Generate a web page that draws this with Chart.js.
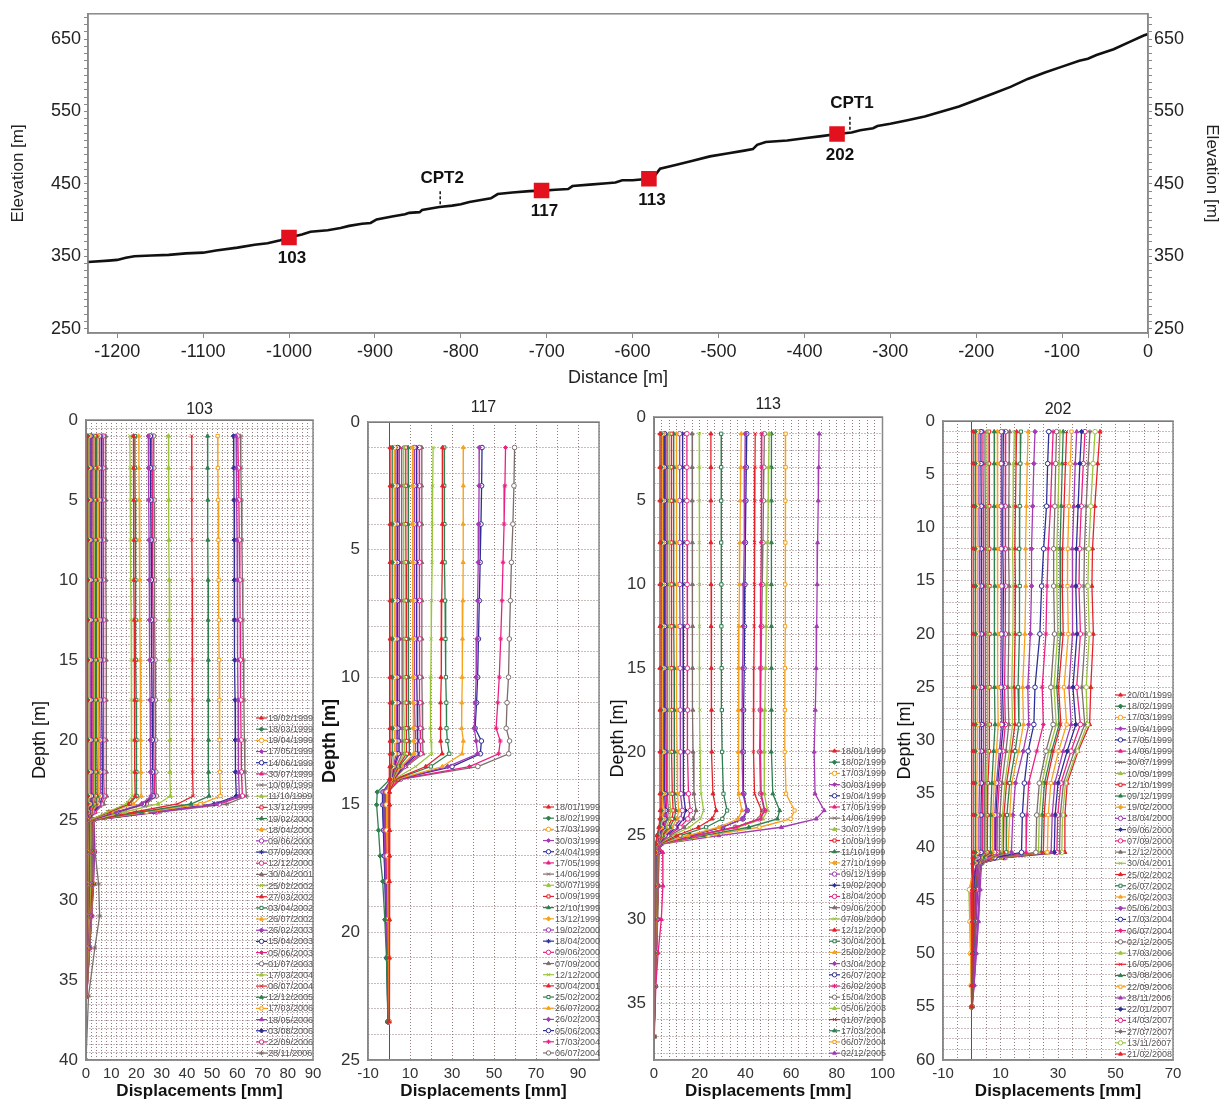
<!DOCTYPE html>
<html>
<head>
<meta charset="utf-8">
<script src="https://cdn.jsdelivr.net/npm/chart.js"></script>
<style>
  html, body { margin: 0; padding: 0; background: #fff; }
  body { width: 1225px; height: 1106px; position: relative; overflow: hidden; }
  canvas { position: absolute; }
</style>
</head>
<body>
<canvas id="profile" width="1225" height="395" style="left:0px;top:0px"></canvas>
<canvas id="inc103" width="340" height="711" style="left:0px;top:395px"></canvas>
<canvas id="inc117" width="300" height="711" style="left:315px;top:395px"></canvas>
<canvas id="inc113" width="300" height="711" style="left:600px;top:395px"></canvas>
<canvas id="inc202" width="335" height="711" style="left:890px;top:395px"></canvas>
<script>
const FONT = '"Liberation Sans", Arial, Helvetica, sans-serif';
Chart.defaults.font.family = FONT;
Chart.defaults.color = '#222';

// ---- slope profile ----
const profileDist = [-1234,-1210,-1200,-1190,-1180,-1160,-1140,-1120,-1100,-1085,-1060,-1040,-1025,-1010,-1000,-985,-975,-955,-940,-930,-915,-905,-898,-880,-865,-860,-848,-845,-825,-810,-800,-790,-775,-765,-757,-740,-720,-700,-690,-675,-670,-650,-630,-620,-612,-600,-581,-575,-568,-550,-530,-510,-490,-470,-460,-455,-445,-420,-400,-380,-362,-345,-335,-320,-315,-300,-280,-260,-240,-220,-200,-180,-160,-140,-120,-100,-80,-70,-60,-40,-20,-5,0];
const profileElev = [342,344,345,348,350,351,352,354,355,358,362,366,368,372,376,380,384,386,389,392,395,396,401,405,408,410,411,414,418,420,422,425,428,430,436,438,440,441,442,443,447,449,451,452,455,455,457,460,471,476,482,488,492,496,498,504,508,510,513,516,519,521,524,527,530,533,538,543,550,557,566,575,584,595,604,612,620,623,628,636,647,655,657];
const wellNames = ['103','117','113','202'];
const wellDist = [-1000,-706,-581,-362];
const wellElev = [376,441,457,519];
const cptNames = ['CPT2','CPT1'];
const cptDist = [-824,-347];
const cptElev = [419,522];

// ---- inclinometer 103 ----
const depth103 = [1,3,5,7.5,10,12.5,15,17.5,20,22,23.5,24,24.5,25,27,29,31,33,36,40];
const dates103 = ['19/02/1999','18/03/1999','19/04/1999','17/05/1999','14/06/1999','30/07/1999','10/09/1999','11/10/1999','13/12/1999','19/02/2000','18/04/2000','09/06/2000','07/09/2000','12/12/2000','30/04/2001','25/02/2002','27/03/2002','03/04/2002','26/07/2002','26/02/2003','15/04/2003','05/06/2003','01/07/2003','17/03/2004','06/07/2004','12/12/2005','17/03/2006','18/05/2006','03/08/2006','22/09/2006','28/11/2006'];
const disp103 = [
  [0.3,0.3,0.3,0.3,0.3,0.3,0.3,0.3,0.3,0.3,0.3,0.3,0.2,0.1,0.1,0,0,0,0,null],
  [0.7,0.7,0.7,0.7,0.7,0.7,0.7,0.7,0.7,0.7,0.7,0.6,0.4,0.2,0.2,0.1,0.1,0,0,null],
  [1.1,1.1,1.1,1.1,1.2,1.2,1.2,1.2,1.2,1.2,1.2,1.0,0.6,0.3,0.3,0.2,0.1,0.1,0,null],
  [1.5,1.5,1.5,1.5,1.5,1.5,1.6,1.6,1.6,1.6,1.6,1.4,0.8,0.4,0.4,0.3,0.2,0.1,0,null],
  [1.9,1.9,1.9,1.9,2.0,2.0,2.0,2.0,2.0,2.0,2.1,1.8,1.0,0.5,0.5,0.4,0.3,0.2,0,null],
  [2.3,2.3,2.3,2.3,2.4,2.4,2.4,2.4,2.4,2.4,2.5,2.2,1.2,0.5,0.6,0.5,0.4,0.2,0,null],
  [2.7,2.7,2.7,2.8,2.8,2.8,2.8,2.8,2.9,2.9,2.9,2.5,1.4,0.6,0.7,0.6,0.4,0.2,0,null],
  [3.1,3.1,3.1,3.2,3.2,3.2,3.3,3.3,3.3,3.3,3.4,2.9,1.6,0.6,0.8,0.7,0.5,0.3,0,null],
  [3.6,3.6,3.6,3.7,3.7,3.7,3.8,3.8,3.8,3.8,3.9,3.3,1.8,0.7,0.9,0.8,0.6,0.3,0.1,null],
  [4.1,4.1,4.1,4.2,4.2,4.2,4.3,4.3,4.3,4.4,4.4,3.8,2.0,0.8,1.0,0.9,0.7,0.4,0.1,null],
  [4.7,4.7,4.8,4.8,4.8,4.9,4.9,4.9,5.0,5.0,5.1,4.4,2.3,0.9,1.1,1.0,0.8,0.4,0.1,null],
  [5.3,5.3,5.4,5.4,5.4,5.5,5.5,5.5,5.6,5.6,5.7,4.9,2.6,1.0,1.2,1.1,0.9,0.5,0.1,null],
  [6.1,6.1,6.2,6.2,6.2,6.3,6.3,6.3,6.4,6.4,6.5,5.6,3.0,1.1,1.3,1.2,1.0,0.5,0.1,null],
  [6.8,6.8,6.9,6.9,6.9,7.0,7.0,7.1,7.1,7.1,7.2,6.2,3.3,1.2,1.4,1.3,1.0,0.6,0.1,null],
  [7.8,7.8,7.8,7.9,7.9,8.0,8.0,8.0,8.1,8.1,8.2,7.0,3.7,1.3,1.5,1.4,1.1,0.6,0.1,null],
  [17.4,17.5,17.6,17.7,17.8,17.9,18.0,18.0,18.1,18.2,18.3,15.8,8.5,1.6,1.9,1.7,1.3,0.8,0.2,null],
  [18.8,18.8,18.9,19.0,19.0,19.1,19.2,19.3,19.3,19.4,19.5,16.8,9.0,1.7,2.0,1.8,1.4,0.8,0.2,null],
  [19.4,19.4,19.5,19.6,19.6,19.7,19.8,19.9,20.0,20.0,20.1,17.3,9.3,1.7,2.0,1.8,1.4,0.8,0.2,null],
  [20.9,21.0,21.1,21.2,21.3,21.4,21.5,21.6,21.7,21.8,21.9,18.8,10.1,1.8,2.1,1.9,1.5,0.9,0.2,null],
  [24.7,24.8,24.9,25.0,25.1,25.2,25.3,25.4,25.5,25.6,25.8,22.1,11.8,1.9,2.2,2.0,1.6,0.9,0.2,null],
  [25.5,25.6,25.7,25.8,25.9,26.0,26.1,26.2,26.3,26.4,26.6,22.8,12.2,2.0,2.3,2.1,1.6,1.0,0.2,null],
  [26.1,26.2,26.3,26.4,26.5,26.6,26.7,26.8,26.9,27.0,27.2,23.3,12.5,2.0,2.3,2.1,1.7,1.0,0.2,null],
  [26.8,26.9,27.0,27.1,27.2,27.3,27.4,27.5,27.6,27.7,27.9,23.9,12.8,2.1,2.4,2.2,1.7,1.0,0.2,null],
  [32.7,32.7,32.8,32.9,33.0,33.0,33.1,33.2,33.3,33.3,33.5,28.6,15.2,2.2,2.5,2.3,1.8,1.1,0.3,null],
  [41.9,41.9,42.0,42.0,42.1,42.1,42.2,42.2,42.3,42.3,42.5,36.3,19.2,2.4,2.7,2.5,1.9,1.2,0.3,null],
  [48.2,48.2,48.3,48.3,48.4,48.4,48.5,48.5,48.6,48.6,48.8,41.6,22.0,2.6,2.9,2.6,2.0,1.3,0.3,null],
  [52.2,52.3,52.4,52.5,52.6,52.7,52.8,52.9,53.0,53.1,53.3,45.4,24.0,2.7,3.0,2.7,2.1,1.3,0.3,null],
  [59.5,59.6,59.8,59.9,60.0,60.1,60.2,60.3,60.4,60.5,60.8,51.8,27.3,2.9,3.2,2.9,2.2,1.4,0.3,null],
  [58.5,58.6,58.7,58.8,58.8,58.9,59.0,59.1,59.2,59.3,59.6,50.8,26.8,2.9,3.2,2.9,2.2,1.4,0.3,null],
  [60.2,60.4,60.6,60.8,61.0,61.1,61.2,61.4,61.5,61.6,62.0,52.8,27.9,3.0,3.3,3.0,2.3,1.5,0.3,null],
  [61.2,61.4,61.6,61.8,62.0,62.2,62.4,62.6,62.8,63.0,63.6,55.8,29.0,3.2,3.6,5.0,5.4,3.5,1.0,0]
];

// ---- inclinometer 117 ----
const depth117 = [1,2.5,4,5.5,7,8.5,10,11,12,12.5,13,13.5,14,14.5,15,16,17,18,19.5,21,23.5];
const dates117 = ['18/01/1999','18/02/1999','17/03/1999','30/03/1999','24/04/1999','17/05/1999','14/06/1999','30/07/1999','10/09/1999','12/10/1999','13/12/1999','19/02/2000','18/04/2000','09/06/2000','07/09/2000','12/12/2000','30/04/2001','25/02/2002','26/07/2002','26/02/2003','05/06/2003','17/03/2004','06/07/2004'];
const disp117 = [
  [0.5,0.5,0.5,0.5,0.5,0.5,0.5,0.5,0.5,0.5,0.5,0.4,0.3,0.2,0.2,0.2,0.2,0.1,0.1,0.1,0],
  [1.5,1.5,1.5,1.5,1.5,1.5,1.5,1.5,1.6,1.6,1.6,1.0,0.5,-5.6,-5.9,-5.0,-4.2,-3.0,-2.0,-1.2,-0.5],
  [2.5,2.5,2.5,2.5,2.5,2.6,2.6,2.6,2.6,2.7,2.7,1.6,0.8,-1.0,-1.2,-1.0,-0.8,-0.6,-0.4,-0.2,0],
  [3.3,3.3,3.3,3.3,3.4,3.4,3.4,3.4,3.5,3.5,3.5,2.0,1.0,-2.5,-2.6,-2.2,-1.9,-1.6,-1.2,-0.8,-0.4],
  [4.0,4.0,4.0,4.1,4.1,4.1,4.1,4.2,4.2,4.3,4.3,2.4,1.1,-2.8,-2.9,-2.5,-2.2,-1.9,-1.5,-1.0,-0.5],
  [4.8,4.8,4.8,4.9,4.9,4.9,5.0,5.0,5.0,5.1,5.1,2.8,1.2,-1.5,-1.6,-1.4,-1.2,-1.0,-0.8,-0.5,-0.2],
  [6.0,6.0,6.0,6.1,6.1,6.2,6.2,6.2,6.3,6.4,6.4,3.4,1.3,-1.2,-1.3,-1.1,-1.0,-0.8,-0.6,-0.4,-0.2],
  [6.9,6.9,6.9,7.0,7.0,7.0,7.1,7.1,7.2,7.3,7.3,3.8,1.4,-0.8,-0.9,-0.8,-0.7,-0.6,-0.4,-0.3,-0.1],
  [8.0,8.0,8.0,8.1,8.1,8.2,8.2,8.3,8.3,8.4,8.5,4.3,1.5,-0.5,-0.6,-0.5,-0.4,-0.3,-0.2,-0.1,0],
  [9.1,9.1,9.1,9.2,9.2,9.3,9.3,9.4,9.5,9.6,9.7,4.8,1.6,-1.8,-1.9,-1.7,-1.5,-1.2,-0.9,-0.6,-0.3],
  [11.2,11.2,11.2,11.3,11.3,11.4,11.4,11.5,11.6,11.8,11.9,5.8,1.8,-0.6,-0.7,-0.6,-0.5,-0.4,-0.3,-0.2,0],
  [12.0,12.0,12.0,12.1,12.1,12.2,12.2,12.3,12.4,12.6,12.7,6.2,1.9,-2.0,-2.1,-1.9,-1.6,-1.3,-1.0,-0.7,-0.3],
  [13.1,13.1,13.1,13.2,13.2,13.3,13.3,13.4,13.5,13.7,13.8,6.8,2.0,-3.0,-3.1,-2.7,-2.3,-1.9,-1.4,-1.0,-0.5],
  [14.4,14.4,14.4,14.5,14.5,14.6,14.6,14.7,14.8,15.0,15.1,7.4,2.1,-1.0,-1.1,-1.0,-0.8,-0.7,-0.5,-0.3,-0.1],
  [15.6,15.6,15.6,15.6,15.7,15.7,15.7,15.8,15.9,16.1,16.2,8.2,2.2,-1.4,-1.5,-1.3,-1.1,-0.9,-0.7,-0.4,-0.2],
  [21.0,20.8,20.6,20.5,20.3,20.1,19.9,19.8,19.7,20.0,20.3,12.7,2.5,-0.7,-0.8,-0.7,-0.6,-0.5,-0.4,-0.2,-0.1],
  [25.5,25.5,25.4,25.3,25.1,25.0,24.8,24.6,24.5,24.6,25.3,17.5,2.8,0.2,0.3,0.3,0.3,0.2,0.2,0.1,0.1],
  [26.3,26.3,26.4,26.5,26.7,26.9,27.1,27.3,27.4,27.8,28.7,19.9,3.0,-0.3,-0.3,-0.3,-0.2,-0.2,-0.1,-0.1,0],
  [35.4,35.4,35.3,35.3,35.2,35.0,34.8,34.7,34.6,35.4,34.8,25.4,3.5,-0.4,-0.4,-0.4,-0.3,-0.3,-0.2,-0.1,0],
  [43.0,42.9,42.7,42.5,42.2,41.9,41.5,41.1,40.6,41.5,42.2,28.0,4.0,-1.2,-1.3,-1.1,-1.0,-0.8,-0.6,-0.4,-0.2],
  [44.3,44.1,43.8,43.4,43.0,42.6,42.2,41.7,41.0,44.0,43.5,30.0,4.2,-2.2,-2.3,-2.0,-1.7,-1.4,-1.1,-0.8,-0.4],
  [55.5,55.2,54.8,54.3,53.8,53.2,52.5,51.8,51.0,53.0,52.2,38.3,5.0,-0.9,-1.0,-0.9,-0.8,-0.6,-0.5,-0.3,-0.1],
  [59.8,59.5,59.0,58.3,57.8,57.3,56.9,56.2,55.8,57.4,57.0,42.3,5.5,-0.5,-0.6,-0.5,-0.4,-0.3,-0.2,-0.1,0]
];

// ---- inclinometer 113 ----
const depth113 = [1,3,5,7.5,10,12.5,15,17.5,20,22.5,23.5,24,24.5,25,25.5,26,28,30,32,34,37];
const dates113 = ['18/01/1999','18/02/1999','17/03/1999','30/03/1999','19/04/1999','17/05/1999','14/06/1999','30/07/1999','10/09/1999','11/10/1999','27/10/1999','09/12/1999','19/02/2000','18/04/2000','09/06/2000','07/09/2000','12/12/2000','30/04/2001','25/02/2002','03/04/2002','26/07/2002','26/02/2003','15/04/2003','05/06/2003','01/07/2003','17/03/2004','06/07/2004','02/12/2005'];
const disp113 = [
  [2.6,2.6,2.6,2.6,2.6,2.6,2.6,2.6,2.6,2.6,2.7,2.6,2.1,1.3,0.7,0.4,0.3,0.2,0.2,0.1,0],
  [3.1,3.1,3.1,3.1,3.1,3.1,3.1,3.1,3.1,3.2,3.3,3.1,2.5,1.5,0.8,0.5,0.4,0.3,0.2,0.1,0],
  [3.6,3.6,3.6,3.6,3.6,3.6,3.6,3.7,3.7,3.7,3.9,3.7,2.9,1.7,0.9,0.6,0.5,0.4,0.3,0.1,0],
  [4.1,4.1,4.1,4.1,4.1,4.1,4.2,4.2,4.2,4.3,4.5,4.2,3.3,1.9,1.0,0.7,0.6,0.4,0.3,0.2,0],
  [4.6,4.6,4.6,4.6,4.6,4.7,4.7,4.7,4.7,4.8,5.0,4.7,3.7,2.1,1.1,0.8,0.7,0.5,0.3,0.2,0],
  [5.1,5.1,5.1,5.1,5.1,5.2,5.2,5.2,5.3,5.4,5.6,5.3,4.1,2.4,1.3,3.8,3.9,3.2,1.8,0.8,0.1],
  [5.7,5.7,5.7,5.7,5.7,5.8,5.8,5.8,5.9,6.0,6.3,5.9,4.6,2.6,1.4,0.9,0.8,0.6,0.4,0.2,0],
  [6.6,6.6,6.6,6.6,6.7,6.7,6.7,6.8,6.8,6.9,7.3,6.8,5.3,3.0,1.5,1.0,0.9,0.7,0.5,0.2,0],
  [7.6,7.6,7.6,7.6,7.7,7.7,7.7,7.8,7.8,8.0,8.4,7.9,6.1,3.4,1.6,1.1,1.0,0.8,0.5,0.3,0],
  [8.6,8.6,8.6,8.6,8.7,8.7,8.8,8.8,8.9,9.0,9.5,8.9,6.9,3.8,1.7,1.2,1.0,0.8,0.6,0.3,0],
  [9.8,9.8,9.8,9.8,9.9,9.9,10.0,10.0,10.1,10.3,10.8,10.1,7.8,4.2,1.8,1.3,1.1,0.9,0.6,0.3,0],
  [11.2,11.2,11.2,11.3,11.3,11.4,11.4,11.5,11.6,11.8,12.4,11.6,8.9,4.7,1.9,1.3,1.2,1.0,0.7,0.3,0],
  [12.5,12.5,12.5,12.6,12.6,12.7,12.7,12.8,12.9,13.1,13.8,12.9,9.9,5.2,2.0,1.4,1.2,1.0,0.7,0.4,0],
  [14.4,14.4,14.4,14.5,14.5,14.6,14.6,14.7,14.8,15.1,15.9,14.8,11.4,5.9,2.1,1.5,1.3,1.1,0.8,0.4,0],
  [16.7,16.7,16.7,16.8,16.8,16.9,16.9,17.0,17.1,17.5,18.4,17.2,13.2,6.8,2.2,1.5,1.3,1.1,0.8,0.4,0],
  [19.8,19.8,19.8,19.8,19.9,19.9,20.0,20.1,20.2,20.6,21.7,20.3,15.5,7.9,2.3,1.6,1.4,1.2,0.9,0.4,0],
  [24.9,24.9,24.9,24.9,25.0,25.0,25.1,25.2,25.3,25.8,27.2,25.4,19.4,9.8,2.4,1.7,1.5,1.2,0.9,0.5,0],
  [29.4,29.4,29.4,29.4,29.5,29.5,29.6,29.7,29.8,30.4,32.0,29.9,22.8,11.5,2.5,1.7,1.5,1.3,0.9,0.5,0],
  [38.2,38.0,37.8,37.6,37.4,37.2,37.0,36.9,36.8,37.2,38.5,36.8,28.3,14.8,2.6,1.8,1.6,1.3,1.0,0.5,0],
  [39.9,39.8,39.6,39.4,39.2,39.0,38.8,38.6,38.5,38.9,40.6,38.6,29.8,15.5,2.7,1.8,1.6,1.3,1.0,0.5,0],
  [40.6,40.4,40.2,40.0,39.8,39.6,39.4,39.2,39.0,39.3,40.8,38.9,30.0,15.6,2.7,1.9,1.6,1.4,1.0,0.5,0],
  [47.2,47.1,47.0,46.9,46.8,46.7,46.6,46.6,46.5,46.9,48.5,46.5,35.8,18.5,2.8,1.9,1.7,1.4,1.0,0.5,0],
  [48.3,48.1,47.9,47.7,47.4,47.1,46.8,46.5,46.2,46.6,48.3,46.2,35.6,18.4,2.8,1.9,1.7,1.4,1.0,0.5,0],
  [50.4,50.2,50.0,49.7,49.4,49.1,48.8,48.5,48.2,48.3,49.7,47.6,36.6,18.9,2.9,2.0,1.7,1.4,1.0,0.5,0],
  [44.3,44.2,44.1,44.0,43.9,43.8,43.7,43.6,43.5,44.0,47.1,46.0,35.4,18.0,2.9,2.0,1.7,1.4,1.0,0.5,0],
  [51.4,51.4,51.4,51.4,51.4,51.4,51.4,51.4,51.3,52.0,55.0,54.0,41.5,21.5,3.0,2.1,1.8,1.5,1.1,0.6,0],
  [57.6,57.6,57.5,57.5,57.4,57.4,57.3,57.3,57.2,57.8,61.5,59.8,46.1,23.8,3.1,2.1,1.8,1.5,1.1,0.6,0],
  [72.3,72.1,71.9,71.6,71.4,71.2,71.0,70.6,70.1,70.5,74.5,71.0,55.7,28.4,3.3,2.2,1.9,1.6,1.1,0.6,0]
];

// ---- inclinometer 202 ----
const depth202 = [1,4,8,12,15.5,20,25,28.5,31,34,37,40.5,41,41.5,44,47,50,53,55];
const dates202 = ['20/01/1999','18/02/1999','17/03/1999','19/04/1999','17/05/1999','14/06/1999','30/07/1999','10/09/1999','12/10/1999','09/12/1999','19/02/2000','18/04/2000','09/06/2000','07/09/2000','12/12/2000','30/04/2001','25/02/2002','26/07/2002','26/02/2003','05/06/2003','17/03/2004','06/07/2004','02/12/2005','17/03/2006','16/05/2006','03/08/2006','22/09/2006','28/11/2006','22/01/2007','14/03/2007','27/07/2007','13/11/2007','21/02/2008'];
const disp202 = [
  [0.5,0.5,0.5,0.5,0.5,0.5,0.5,0.5,0.5,0.5,0.5,0.5,0.4,0.3,0.2,0.1,0.1,0,0],
  [1.2,1.2,1.2,1.2,1.3,1.3,1.3,1.3,1.2,1.2,1.2,1.2,1.0,0.6,0.4,0.3,0.2,0.1,0],
  [1.8,1.8,1.8,1.9,1.9,1.9,1.9,2.0,1.9,1.8,1.8,1.8,1.3,0.8,-0.8,-0.6,-0.4,-0.2,0],
  [2.5,2.5,2.5,2.6,2.7,2.7,2.7,2.8,2.7,2.6,2.5,2.5,1.8,1.2,2.8,2.3,1.6,0.8,0.2],
  [3.2,3.2,3.3,3.3,3.4,3.4,3.4,3.5,3.4,3.3,3.2,3.2,2.2,1.5,0.6,0.4,0.3,0.1,0],
  [3.9,3.9,4.0,4.0,4.1,4.1,4.1,4.2,4.1,3.9,3.8,3.8,2.6,1.7,-0.5,-0.3,-0.2,-0.1,0],
  [4.6,4.6,4.7,4.7,4.8,4.8,4.8,4.9,4.8,4.6,4.4,4.4,2.9,1.9,0.8,0.6,0.4,0.2,0],
  [5.3,5.3,5.4,5.4,5.5,5.5,5.5,5.6,5.4,5.1,4.9,4.9,3.2,2.0,-1.0,-0.7,-0.4,-0.2,0],
  [6.0,6.0,6.1,6.1,6.2,6.2,6.2,6.3,6.0,5.6,5.4,5.4,3.5,2.1,1.0,0.8,0.5,0.2,0],
  [7.8,7.8,7.8,7.9,8.0,8.0,7.9,8.1,7.6,7.0,6.6,6.5,4.0,2.2,1.2,0.9,0.6,0.3,0],
  [8.9,8.9,8.9,9.0,9.1,9.1,9.0,9.2,8.6,7.8,7.3,7.2,4.3,2.3,1.0,0.7,0.5,0.2,0],
  [10.3,10.2,10.2,10.2,10.4,10.3,10.1,10.4,9.6,8.6,8.0,7.9,4.6,2.4,1.8,1.4,1.0,0.5,0.1],
  [11.0,10.9,10.8,10.8,11.0,10.9,10.7,11.0,10.1,9.0,8.4,8.3,4.8,2.4,1.3,1.0,0.7,0.3,0],
  [11.8,11.7,11.6,11.6,11.8,11.7,11.4,11.7,10.8,9.6,8.9,8.8,5.0,2.5,1.1,0.8,0.5,0.2,0],
  [13.2,13.0,12.9,12.8,13.0,12.9,12.6,12.9,11.9,10.5,9.8,9.6,5.4,2.5,1.4,1.0,0.7,0.3,0],
  [14.8,14.6,14.4,14.2,14.4,14.3,13.9,14.2,13.1,11.5,10.7,10.5,5.8,2.6,1.0,0.7,0.5,0.2,0],
  [15.6,15.4,15.2,15.0,15.2,15.1,14.7,15.0,13.8,12.1,11.2,11.0,6.0,2.6,1.5,1.1,0.8,0.4,0],
  [17.1,16.9,16.7,16.5,16.7,16.6,16.1,16.4,15.1,13.2,12.2,12.0,6.4,2.7,1.2,0.9,0.6,0.3,0],
  [19.6,19.3,19.0,18.7,18.8,18.5,17.7,18.0,16.3,13.9,13.2,12.6,6.8,2.8,1.6,1.2,0.8,0.4,0],
  [22.0,21.6,21.2,20.8,20.8,20.4,19.5,19.8,17.9,15.2,14.3,13.8,7.2,2.9,2.6,2.0,1.4,0.7,0.1],
  [26.8,26.4,26.0,25.0,24.3,23.7,22.0,21.6,19.6,18.3,17.6,17.3,8.0,3.0,1.8,1.4,0.9,0.4,0],
  [28.3,27.9,27.4,26.6,26.2,25.8,24.5,24.9,22.6,19.8,19.2,18.9,8.4,3.0,1.4,1.0,0.7,0.3,0],
  [29.5,29.2,28.9,28.5,28.5,28.8,27.5,28.3,25.8,23.5,22.6,22.3,9.0,3.1,1.6,1.2,0.8,0.4,0],
  [30.7,30.4,30.0,29.6,29.6,29.9,28.6,29.4,26.8,24.4,23.5,23.2,9.3,3.1,1.3,1.0,0.7,0.3,0],
  [33.0,32.6,32.1,31.6,31.5,31.8,30.2,31.0,28.4,26.0,25.2,24.9,9.8,3.2,1.7,1.3,0.9,0.4,0],
  [31.8,31.5,31.1,30.7,30.7,31.0,29.6,30.4,27.8,25.3,24.5,24.2,9.6,3.2,1.5,1.1,0.8,0.4,0],
  [34.7,34.3,33.8,33.4,33.3,33.6,32.1,33.0,30.2,27.5,26.6,26.3,10.2,3.3,1.8,1.3,0.9,0.4,0],
  [36.5,36.0,35.5,35.0,34.9,35.2,33.8,34.6,31.8,28.9,28.0,27.6,10.6,3.4,2.9,2.3,1.5,0.8,0.1],
  [38.2,37.6,37.0,36.4,36.2,36.6,35.2,36.2,33.2,30.0,29.0,28.7,10.9,3.4,1.9,1.4,1.0,0.5,0],
  [39.4,38.8,38.1,37.5,37.3,37.8,36.5,37.8,34.5,31.0,29.9,29.6,11.2,3.5,1.6,1.2,0.8,0.4,0],
  [41.1,40.5,39.8,39.2,39.0,39.5,38.3,39.3,35.7,31.9,30.8,30.5,11.5,3.5,2.0,1.5,1.0,0.5,0],
  [42.9,42.2,41.4,40.7,40.4,40.9,39.8,40.2,36.6,32.6,31.6,31.3,11.8,3.6,1.8,1.3,0.9,0.4,0],
  [44.6,43.8,42.8,42.0,41.8,42.3,41.4,41.0,37.0,33.2,32.4,32.4,9.8,2.2,1.9,1.4,1.0,0.5,0]
];

// colours / markers cycle like the original plotting software
const palette = ['#e5232b','#2f7f4f','#f6a21d','#a33bb3','#2d2f96','#ea2184','#7d6e6e','#9bc43c'];
const markerStyles = ['triangle','rectRot','circle','star','circle','triangle','crossRot','triangle','rect'];
const markerOpen = [false,false,true,false,true,false,false,false,true];

function drawMarker(ctx, style, r, x, y) {
  if (Chart.helpers && Chart.helpers.drawPoint) {
    Chart.helpers.drawPoint(ctx, {pointStyle: style, radius: r, borderWidth: 1, rotation: 0}, x, y);
  } else {
    ctx.beginPath(); ctx.arc(x, y, r, 0, Math.PI * 2); ctx.fill(); ctx.stroke();
  }
}

const frame = {
  id: 'frame',
  afterDatasetsDraw(chart) {
    const a = chart.chartArea, ctx = chart.ctx;
    ctx.save();
    ctx.strokeStyle = '#888';
    ctx.lineWidth = 1.5;
    ctx.strokeRect(a.left, a.top, a.right - a.left, a.bottom - a.top);
    ctx.restore();
  }
};

const insideLegend = {
  id: 'insideLegend',
  afterDatasetsDraw(chart, args, o) {
    if (!o || !o.show) return;
    const ctx = chart.ctx;
    ctx.save();
    ctx.font = '9px ' + FONT;
    ctx.textBaseline = 'middle';
    ctx.textAlign = 'left';
    chart.data.datasets.forEach((ds, i) => {
      const y = o.top + i * o.gap;
      ctx.strokeStyle = ds.borderColor;
      ctx.lineWidth = 1.2;
      ctx.beginPath(); ctx.moveTo(o.left, y); ctx.lineTo(o.left + 11, y); ctx.stroke();
      ctx.fillStyle = ds.pointBackgroundColor;
      ctx.lineWidth = 1;
      drawMarker(ctx, ds.pointStyle, 2.2, o.left + 5.5, y);
      ctx.fillStyle = '#555';
      ctx.fillText(ds.label, o.left + 12, y + 0.5);
    });
    ctx.restore();
  }
};

const panelTitle = {
  id: 'panelTitle',
  afterDraw(chart, args, o) {
    if (!o || !o.text) return;
    const a = chart.chartArea, ctx = chart.ctx;
    ctx.save();
    ctx.font = '16px ' + FONT;
    ctx.fillStyle = '#222';
    ctx.textAlign = 'center';
    ctx.textBaseline = 'middle';
    ctx.fillText(o.text, (a.left + a.right) / 2, a.top - o.dy);
    ctx.restore();
  }
};

const profileLabels = {
  id: 'profileLabels',
  afterDatasetsDraw(chart) {
    const ctx = chart.ctx, x = chart.scales.x, y = chart.scales.y;
    ctx.save();
    ctx.fillStyle = '#111';
    ctx.font = 'bold 17px ' + FONT;
    ctx.textAlign = 'center';
    ctx.textBaseline = 'middle';
    wellNames.forEach((n, i) => {
      ctx.fillText(n, x.getPixelForValue(wellDist[i]) + 3, y.getPixelForValue(wellElev[i]) + 21);
    });
    cptNames.forEach((n, i) => {
      const px = x.getPixelForValue(cptDist[i]);
      const py = y.getPixelForValue(cptElev[i]);
      ctx.strokeStyle = '#111';
      ctx.lineWidth = 1.5;
      ctx.setLineDash([3, 2]);
      ctx.beginPath(); ctx.moveTo(px, py - 2); ctx.lineTo(px, py - 17); ctx.stroke();
      ctx.setLineDash([]);
      ctx.fillText(n, px + 2, py - 28);
    });
    ctx.restore();
  }
};

// top chart
new Chart(document.getElementById('profile'), {
  type: 'scatter',
  data: {
    datasets: [
      {
        label: 'inclinometers',
        data: wellDist.map((d, i) => ({x: d, y: wellElev[i]})),
        pointStyle: 'rect', pointRadius: 11, pointBackgroundColor: '#e3101d',
        pointBorderWidth: 0, showLine: false
      },
      {
        label: 'profile',
        data: profileDist.map((d, i) => ({x: d, y: profileElev[i]})),
        showLine: true, borderColor: '#111', borderWidth: 2.6, pointRadius: 0
      }
    ]
  },
  options: {
    responsive: false, animation: false, devicePixelRatio: 1,
    layout: { padding: { top: 8, left: 0, right: 0, bottom: 0 }, autoPadding: false },
    plugins: { legend: { display: false }, tooltip: { enabled: false } },
    scales: {
      x: {
        type: 'linear', min: -1234, max: 0,
        afterFit: s => { s.height = 62; },
        ticks: { stepSize: 100, includeBounds: false, autoSkip: false, maxRotation: 0, padding: 3, color: '#222', font: { size: 18 },
          callback: v => String(v) },
        grid: { drawOnChartArea: false, tickLength: 5, color: '#888' },
        border: { color: '#888', width: 1.5 },
        title: { display: true, text: 'Distance [m]', color: '#222', font: { size: 18 }, padding: { top: 0, bottom: 6 } }
      },
      y: {
        type: 'linear', position: 'left', min: 244, max: 685,
        afterFit: s => { s.width = 88; },
        ticks: { stepSize: 10, includeBounds: false, autoSkip: false, padding: 3, color: '#222', font: { size: 18 },
          callback: v => (v % 100 === 50 ? String(v) : '') },
        grid: { drawOnChartArea: false, tickLength: 4, color: '#888' },
        border: { color: '#888', width: 1.5 },
        title: { display: true, text: 'Elevation [m]', color: '#222', font: { size: 17 }, padding: { top: 8 } }
      },
      y2: {
        type: 'linear', position: 'right', min: 244, max: 685,
        afterFit: s => { s.width = 77; },
        ticks: { stepSize: 10, includeBounds: false, autoSkip: false, padding: 2, color: '#222', font: { size: 18 },
          callback: v => (v % 100 === 50 ? String(v) : '') },
        grid: { drawOnChartArea: false, tickLength: 4, color: '#888' },
        border: { color: '#888', width: 1.5 },
        title: { display: true, text: 'Elevation [m]', color: '#222', font: { size: 17 }, padding: { top: 3 } }
      }
    }
  },
  plugins: [frame, profileLabels]
});

// inclinometer panels
function panel(id, o) {
  const datasets = o.rows.map((row, i) => {
    const c = palette[i % palette.length];
    const k = i % markerStyles.length;
    const pts = [];
    row.forEach((v, j) => { if (v !== null) pts.push({x: v, y: o.depths[j]}); });
    return {
      label: o.dates[i], data: pts,
      borderColor: c, backgroundColor: c,
      pointStyle: markerStyles[k], pointBackgroundColor: markerOpen[k] ? '#fff' : c,
      pointBorderColor: c, pointRadius: 2.3, pointBorderWidth: 1,
      borderWidth: 1.3, showLine: true
    };
  });
  const isZero = ctx => ctx.tick && Math.abs(ctx.tick.value) < 1e-9;
  const gridColor = ctx => isZero(ctx) ? '#555' : 'rgba(135,112,112,0.9)';
  const gridDash = ctx => isZero(ctx) ? [] : [1, 2];
  new Chart(document.getElementById(id), {
    type: 'scatter',
    data: { datasets },
    options: {
      responsive: false, animation: false, devicePixelRatio: 1,
      layout: { padding: { top: o.top, right: o.right, left: 0, bottom: 0 }, autoPadding: false },
      plugins: {
        legend: { display: false }, tooltip: { enabled: false },
        insideLegend: Object.assign({ show: true }, o.legend),
        panelTitle: { text: o.title, dy: o.titleDy }
      },
      scales: {
        x: {
          type: 'linear', min: o.xmin, max: o.xmax,
          afterFit: s => { s.height = 46; },
          ticks: { stepSize: o.xstep, includeBounds: false, autoSkip: false, maxRotation: 0, padding: 5,
            color: '#333', font: { size: 15 }, callback: o.xlab },
          grid: { drawTicks: false, color: gridColor, lineWidth: 1 },
          border: { color: '#888', width: 1.5, dash: gridDash },
          title: { display: true, text: 'Displacements [mm]', color: '#111', font: { size: 17, weight: 'bold' }, padding: { top: 0, bottom: 4 } }
        },
        y: {
          type: 'linear', reverse: true, min: 0, max: o.ymax,
          afterFit: s => { s.width = o.yw; },
          ticks: { stepSize: o.ystep, includeBounds: false, autoSkip: false, padding: 8,
            color: '#333', font: { size: 17 }, callback: v => (Math.abs(v % 5) < 1e-9 ? String(v) : '') },
          grid: { drawTicks: false, color: gridColor, lineWidth: 1 },
          border: { color: '#888', width: 1.5, dash: gridDash },
          title: { display: true, text: 'Depth [m]', color: '#111', font: { size: 18, weight: o.yBold ? 'bold' : 'normal' }, padding: { top: o.yTitlePad } }
        }
      }
    },
    plugins: [frame, insideLegend, panelTitle]
  });
}

panel('inc103', {
  depths: depth103, dates: dates103, rows: disp103, title: '103', titleDy: 10,
  top: 25, right: 27, yw: 86, yTitlePad: 29, yBold: false,
  xmin: 0, xmax: 90, xstep: 2, xlab: v => (v % 10 === 0 ? String(v) : ''),
  ymax: 40, ystep: 0.5,
  legend: { left: 256, top: 323, gap: 11.17 }
});

panel('inc117', {
  depths: depth117, dates: dates117, rows: disp117, title: '117', titleDy: 14,
  top: 27, right: 16, yw: 53, yTitlePad: 4, yBold: true,
  xmin: -10, xmax: 100, xstep: 10, xlab: v => (((v + 10) % 20 === 0 && v < 100) ? String(v) : ''),
  ymax: 25, ystep: 1,
  legend: { left: 228, top: 412, gap: 11.18 }
});

panel('inc113', {
  depths: depth113, dates: dates113, rows: disp113, title: '113', titleDy: 12,
  top: 22, right: 14, yw: 54, yTitlePad: 7, yBold: false,
  xmin: 0, xmax: 100, xstep: 10 / 3, xlab: v => (Math.abs(v / 20 - Math.round(v / 20)) < 1e-6 ? String(Math.round(v)) : ''),
  ymax: 38.4, ystep: 1,
  legend: { left: 229, top: 356, gap: 11.19 }
});

panel('inc202', {
  depths: depth202, dates: dates202, rows: disp202, title: '202', titleDy: 11,
  top: 26, right: 52, yw: 53, yTitlePad: 4, yBold: false,
  xmin: -10, xmax: 70, xstep: 5, xlab: v => ((v + 10) % 20 === 0 ? String(v) : ''),
  ymax: 60, ystep: 1,
  legend: { left: 225, top: 300, gap: 11.22 }
});
</script>
</body>
</html>
